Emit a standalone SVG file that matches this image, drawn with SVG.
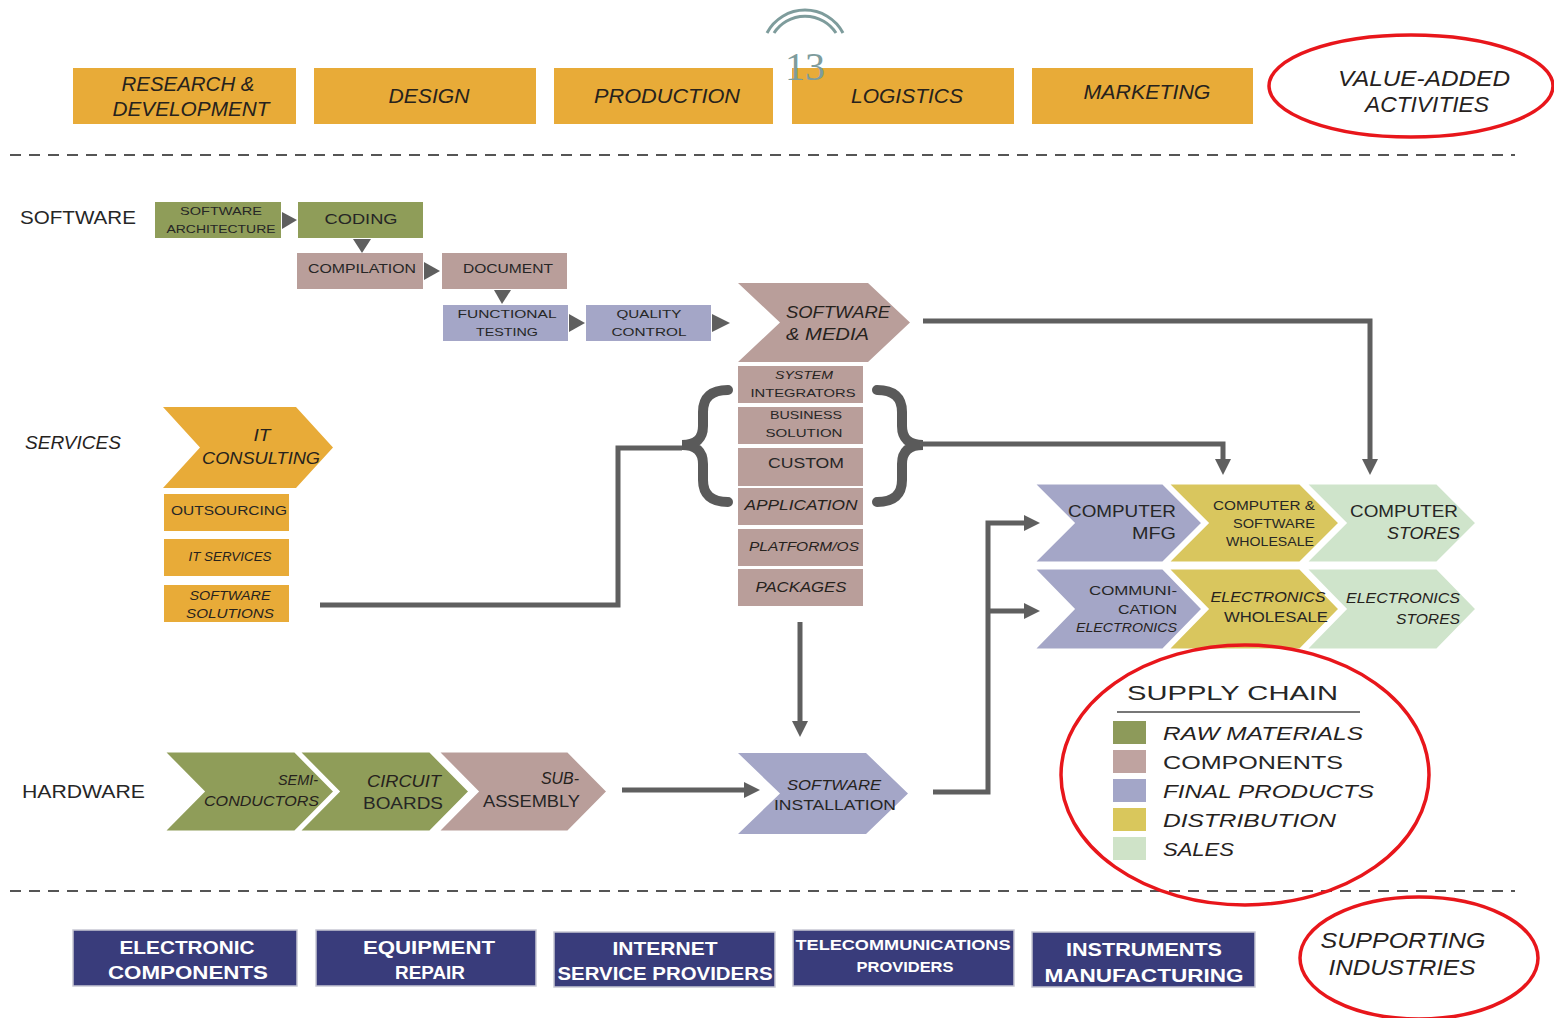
<svg xmlns="http://www.w3.org/2000/svg" width="1554" height="1018" viewBox="0 0 1554 1018">
<style>
.gold{fill:#E8AB38}
.olive{fill:#8F9D59}
.mauve{fill:#B99E9A}
.lav{fill:#A4A6C7}
.yel{fill:#D9C65E}
.sale{fill:#CFE4CB}
.navy{fill:#393C7B;stroke:#c8c8d4;stroke-width:1.5}
.chev{stroke:#ffffff;stroke-width:3}
.t{font-family:"Liberation Sans",Arial,sans-serif;fill:#26221d;font-style:italic}
.u{font-family:"Liberation Sans",Arial,sans-serif;fill:#262626}
.w{font-family:"Liberation Sans",Arial,sans-serif;fill:#ffffff;font-weight:bold}
.c{text-anchor:middle}
.e{text-anchor:end}
.conn{stroke:#5F5F5F;stroke-width:5;fill:none}
.tri{fill:#5F5F5F}
.dash{stroke:#555;stroke-width:2;stroke-dasharray:11 8;fill:none}
.red{stroke:#E8161B;stroke-width:3.5;fill:none}
.brace{stroke:#5A5A5A;stroke-width:10;fill:none;stroke-linecap:round}
</style>
<defs>
<marker id="ah" markerUnits="userSpaceOnUse" markerWidth="16" markerHeight="16" refX="10" refY="8" orient="auto">
<path d="M0,0 L16,8 L0,16 Z" fill="#5F5F5F"/>
</marker>
</defs>
<rect width="1554" height="1018" fill="#ffffff"/>

<!-- value-added activities row -->
<g id="rd"><rect class="gold" x="73" y="68" width="223" height="56"/>
<text class="t c" x="188" y="91" font-size="20" textLength="133" lengthAdjust="spacingAndGlyphs">RESEARCH &amp;</text>
<text class="t c" x="191" y="116" font-size="20" textLength="157" lengthAdjust="spacingAndGlyphs">DEVELOPMENT</text></g>
<g id="design"><rect class="gold" x="314" y="68" width="222" height="56"/>
<text class="t c" x="429" y="103" font-size="20" textLength="81" lengthAdjust="spacingAndGlyphs">DESIGN</text></g>
<g id="production"><rect class="gold" x="554" y="68" width="219" height="56"/>
<text class="t c" x="667" y="103" font-size="20" textLength="146" lengthAdjust="spacingAndGlyphs">PRODUCTION</text></g>
<g id="logistics"><rect class="gold" x="792" y="68" width="222" height="56"/>
<text class="t c" x="907" y="103" font-size="20" textLength="112" lengthAdjust="spacingAndGlyphs">LOGISTICS</text></g>
<g id="marketing"><rect class="gold" x="1032" y="68" width="221" height="56"/>
<text class="t c" x="1147" y="99" font-size="20" textLength="127" lengthAdjust="spacingAndGlyphs">MARKETING</text></g>
<g id="vaa">
<ellipse class="red" cx="1411" cy="86" rx="142" ry="51"/>
<text class="t c" x="1424" y="86" font-size="22" textLength="172" lengthAdjust="spacingAndGlyphs">VALUE-ADDED</text>
<text class="t c" x="1427" y="112" font-size="22" textLength="124" lengthAdjust="spacingAndGlyphs">ACTIVITIES</text></g>

<!-- page number decoration -->
<g id="pagenum">
<path d="M767,33 A43,43 0 0 1 843,33" stroke="#7E9C9C" stroke-width="3" fill="none"/>
<path d="M774,33 A37,37 0 0 1 836,33" stroke="#7E9C9C" stroke-width="3" fill="none"/>
<text x="805" y="80" font-family="Liberation Serif,serif" font-size="40" fill="#7E9C9C" text-anchor="middle" textLength="40" lengthAdjust="spacingAndGlyphs">13</text>
</g>

<line class="dash" x1="10" y1="155" x2="1515" y2="155"/>
<line class="dash" x1="10" y1="891" x2="1515" y2="891"/>

<!-- row labels -->
<text class="u" x="20" y="224" font-size="19" textLength="116" lengthAdjust="spacingAndGlyphs">SOFTWARE</text>
<text class="t" x="25" y="449" font-size="19" textLength="96" lengthAdjust="spacingAndGlyphs">SERVICES</text>
<text class="u" x="22" y="798" font-size="19" textLength="123" lengthAdjust="spacingAndGlyphs">HARDWARE</text>

<!-- software chain -->
<g id="swarch"><rect class="olive" x="155" y="202" width="126" height="36"/>
<text class="u c" x="221" y="215" font-size="11" textLength="82" lengthAdjust="spacingAndGlyphs">SOFTWARE</text>
<text class="u c" x="221" y="233" font-size="11" textLength="109" lengthAdjust="spacingAndGlyphs">ARCHITECTURE</text></g>
<g id="coding"><rect class="olive" x="298" y="202" width="125" height="36"/>
<text class="u c" x="361" y="224" font-size="14" textLength="73" lengthAdjust="spacingAndGlyphs">CODING</text></g>
<g id="compilation"><rect class="mauve" x="297" y="253" width="126" height="36"/>
<text class="u c" x="362" y="273" font-size="12" textLength="108" lengthAdjust="spacingAndGlyphs">COMPILATION</text></g>
<g id="document"><rect class="mauve" x="442" y="253" width="125" height="36"/>
<text class="u c" x="508" y="273" font-size="12" textLength="90" lengthAdjust="spacingAndGlyphs">DOCUMENT</text></g>
<g id="functesting"><rect class="lav" x="443" y="305" width="125" height="36"/>
<text class="u c" x="507" y="318" font-size="11" textLength="99" lengthAdjust="spacingAndGlyphs">FUNCTIONAL</text>
<text class="u c" x="507" y="336" font-size="11" textLength="62" lengthAdjust="spacingAndGlyphs">TESTING</text></g>
<g id="quality"><rect class="lav" x="586" y="305" width="125" height="36"/>
<text class="u c" x="649" y="318" font-size="11" textLength="65" lengthAdjust="spacingAndGlyphs">QUALITY</text>
<text class="u c" x="649" y="336" font-size="11" textLength="75" lengthAdjust="spacingAndGlyphs">CONTROL</text></g>
<g id="swmedia"><path class="mauve" d="M738,283 L868,283 L910,322.5 L868,362 L738,362 L780,322.5 Z"/>
<text class="t" x="786" y="318" font-size="17" textLength="104" lengthAdjust="spacingAndGlyphs">SOFTWARE</text>
<text class="t" x="786" y="340" font-size="17" textLength="83" lengthAdjust="spacingAndGlyphs">&amp; MEDIA</text></g>

<!-- software stack -->
<g id="sysint"><rect class="mauve" x="738" y="366" width="125" height="37"/>
<text class="t c" x="804" y="379" font-size="11" textLength="58" lengthAdjust="spacingAndGlyphs">SYSTEM</text>
<text class="u c" x="803" y="397" font-size="11" textLength="105" lengthAdjust="spacingAndGlyphs">INTEGRATORS</text></g>
<g id="business"><rect class="mauve" x="738" y="407" width="125" height="37"/>
<text class="u c" x="806" y="419" font-size="11" textLength="72" lengthAdjust="spacingAndGlyphs">BUSINESS</text>
<text class="u c" x="804" y="437" font-size="11" textLength="77" lengthAdjust="spacingAndGlyphs">SOLUTION</text></g>
<g id="custom"><rect class="mauve" x="738" y="448" width="125" height="38"/>
<text class="u c" x="806" y="468" font-size="15" textLength="76" lengthAdjust="spacingAndGlyphs">CUSTOM</text></g>
<g id="application"><rect class="mauve" x="738" y="488" width="125" height="37"/>
<text class="t c" x="801" y="510" font-size="15" textLength="113" lengthAdjust="spacingAndGlyphs">APPLICATION</text></g>
<g id="platform"><rect class="mauve" x="738" y="529" width="125" height="37"/>
<text class="t c" x="804" y="551" font-size="12" textLength="110" lengthAdjust="spacingAndGlyphs">PLATFORM/OS</text></g>
<g id="packages"><rect class="mauve" x="738" y="569" width="125" height="37"/>
<text class="t c" x="801" y="592" font-size="14" textLength="91" lengthAdjust="spacingAndGlyphs">PACKAGES</text></g>

<!-- services -->
<g id="itconsulting"><path class="gold" d="M163,407 L296,407 L333,447.5 L296,488 L163,488 L200,447.5 Z"/>
<text class="t c" x="262" y="441" font-size="16" textLength="17" lengthAdjust="spacingAndGlyphs">IT</text>
<text class="t c" x="261" y="464" font-size="16" textLength="118" lengthAdjust="spacingAndGlyphs">CONSULTING</text></g>
<g id="outsourcing"><rect class="gold" x="164" y="494" width="125" height="37"/>
<text class="u c" x="229" y="515" font-size="12" textLength="116" lengthAdjust="spacingAndGlyphs">OUTSOURCING</text></g>
<g id="itservices"><rect class="gold" x="164" y="539" width="125" height="37"/>
<text class="t c" x="230" y="561" font-size="12" textLength="83" lengthAdjust="spacingAndGlyphs">IT SERVICES</text></g>
<g id="swsolutions"><rect class="gold" x="164" y="585" width="125" height="37"/>
<text class="t c" x="230" y="600" font-size="12" textLength="81" lengthAdjust="spacingAndGlyphs">SOFTWARE</text>
<text class="t c" x="230" y="618" font-size="12" textLength="88" lengthAdjust="spacingAndGlyphs">SOLUTIONS</text></g>

<!-- hardware -->
<g id="semi"><path class="olive chev" d="M163,751 L295,751 L335,791.5 L295,832 L163,832 L203,791.5 Z"/>
<text class="t e" x="318" y="785" font-size="14" textLength="40" lengthAdjust="spacingAndGlyphs">SEMI-</text>
<text class="t e" x="319" y="806" font-size="14" textLength="115" lengthAdjust="spacingAndGlyphs">CONDUCTORS</text></g>
<g id="circuit"><path class="olive chev" d="M298,751 L430,751 L470,791.5 L430,832 L298,832 L338,791.5 Z"/>
<text class="t c" x="404" y="787" font-size="17" textLength="74" lengthAdjust="spacingAndGlyphs">CIRCUIT</text>
<text class="u c" x="403" y="809" font-size="17" textLength="80" lengthAdjust="spacingAndGlyphs">BOARDS</text></g>
<g id="subassembly"><path class="mauve chev" d="M437,751 L568,751 L608,791.5 L568,832 L437,832 L477,791.5 Z"/>
<text class="t e" x="579" y="784" font-size="17" textLength="38" lengthAdjust="spacingAndGlyphs">SUB-</text>
<text class="u e" x="580" y="807" font-size="17" textLength="97" lengthAdjust="spacingAndGlyphs">ASSEMBLY</text></g>
<g id="swinstall"><path class="lav" d="M738,753 L866,753 L908,793.5 L866,834 L738,834 L780,793.5 Z"/>
<text class="t c" x="834" y="790" font-size="15" textLength="94" lengthAdjust="spacingAndGlyphs">SOFTWARE</text>
<text class="u c" x="835" y="810" font-size="15" textLength="122" lengthAdjust="spacingAndGlyphs">INSTALLATION</text></g>

<!-- supply chain grid -->
<g id="compmfg"><path class="lav chev" d="M1033,483 L1163,483 L1203,523 L1163,563 L1033,563 L1073,523 Z"/>
<text class="u e" x="1176" y="517" font-size="17" textLength="108" lengthAdjust="spacingAndGlyphs">COMPUTER</text>
<text class="u e" x="1176" y="539" font-size="17" textLength="44" lengthAdjust="spacingAndGlyphs">MFG</text></g>
<g id="compwholesale"><path class="yel chev" d="M1167,483 L1300,483 L1340,523 L1300,563 L1167,563 L1207,523 Z"/>
<text class="u c" x="1264" y="510" font-size="12" textLength="102" lengthAdjust="spacingAndGlyphs">COMPUTER &amp;</text>
<text class="u c" x="1274" y="528" font-size="12" textLength="82" lengthAdjust="spacingAndGlyphs">SOFTWARE</text>
<text class="u c" x="1270" y="546" font-size="12" textLength="88" lengthAdjust="spacingAndGlyphs">WHOLESALE</text></g>
<g id="compstores"><path class="sale chev" d="M1305,483 L1437,483 L1477,523 L1437,563 L1305,563 L1345,523 Z"/>
<text class="u e" x="1458" y="517" font-size="17" textLength="108" lengthAdjust="spacingAndGlyphs">COMPUTER</text>
<text class="t e" x="1460" y="539" font-size="17" textLength="73" lengthAdjust="spacingAndGlyphs">STORES</text></g>
<g id="commelec"><path class="lav chev" d="M1033,568 L1163,568 L1203,609 L1163,650 L1033,650 L1073,609 Z"/>
<text class="u e" x="1177" y="595" font-size="12" textLength="88" lengthAdjust="spacingAndGlyphs">COMMUNI-</text>
<text class="u e" x="1177" y="614" font-size="12" textLength="59" lengthAdjust="spacingAndGlyphs">CATION</text>
<text class="t e" x="1177" y="632" font-size="12" textLength="101" lengthAdjust="spacingAndGlyphs">ELECTRONICS</text></g>
<g id="elecwholesale"><path class="yel chev" d="M1167,568 L1300,568 L1340,609 L1300,650 L1167,650 L1207,609 Z"/>
<text class="t c" x="1268" y="602" font-size="15" textLength="115" lengthAdjust="spacingAndGlyphs">ELECTRONICS</text>
<text class="u c" x="1276" y="622" font-size="15" textLength="104" lengthAdjust="spacingAndGlyphs">WHOLESALE</text></g>
<g id="elecstores"><path class="sale chev" d="M1305,568 L1437,568 L1477,609 L1437,650 L1305,650 L1345,609 Z"/>
<text class="t e" x="1460" y="603" font-size="15" textLength="114" lengthAdjust="spacingAndGlyphs">ELECTRONICS</text>
<text class="t e" x="1460" y="624" font-size="15" textLength="64" lengthAdjust="spacingAndGlyphs">STORES</text></g>

<!-- legend -->
<g id="legend">
<ellipse class="red" cx="1245" cy="775" rx="184" ry="130"/>
<text class="u" x="1127" y="700" font-size="21" textLength="211" lengthAdjust="spacingAndGlyphs">SUPPLY CHAIN</text>
<line x1="1117" y1="712" x2="1360" y2="712" stroke="#777" stroke-width="2"/>
<rect x="1113" y="721" width="33" height="23" fill="#8D9A5A"/>
<rect x="1113" y="750" width="33" height="23" fill="#BFA3A0"/>
<rect x="1113" y="779" width="33" height="23" fill="#A3A6C8"/>
<rect x="1113" y="808" width="33" height="23" fill="#D9C75C"/>
<rect x="1113" y="837" width="33" height="23" fill="#CFE3C8"/>
<text class="t" x="1163" y="740" font-size="19" textLength="200" lengthAdjust="spacingAndGlyphs">RAW MATERIALS</text>
<text class="u" x="1163" y="769" font-size="19" textLength="180" lengthAdjust="spacingAndGlyphs">COMPONENTS</text>
<text class="t" x="1163" y="798" font-size="19" textLength="211" lengthAdjust="spacingAndGlyphs">FINAL PRODUCTS</text>
<text class="t" x="1163" y="827" font-size="19" textLength="173" lengthAdjust="spacingAndGlyphs">DISTRIBUTION</text>
<text class="t" x="1163" y="856" font-size="19" textLength="71" lengthAdjust="spacingAndGlyphs">SALES</text>
</g>

<!-- supporting industries -->
<g id="eleccomp"><rect class="navy" x="73" y="930" width="224" height="56"/>
<text class="w c" x="187" y="954" font-size="19" textLength="135" lengthAdjust="spacingAndGlyphs">ELECTRONIC</text>
<text class="w c" x="188" y="979" font-size="19" textLength="160" lengthAdjust="spacingAndGlyphs">COMPONENTS</text></g>
<g id="equiprepair"><rect class="navy" x="316" y="930" width="220" height="56"/>
<text class="w c" x="429" y="954" font-size="19" textLength="132" lengthAdjust="spacingAndGlyphs">EQUIPMENT</text>
<text class="w c" x="430" y="979" font-size="19" textLength="70" lengthAdjust="spacingAndGlyphs">REPAIR</text></g>
<g id="isp"><rect class="navy" x="554" y="932" width="221" height="55"/>
<text class="w c" x="665" y="955" font-size="19" textLength="105" lengthAdjust="spacingAndGlyphs">INTERNET</text>
<text class="w c" x="665" y="980" font-size="19" textLength="215" lengthAdjust="spacingAndGlyphs">SERVICE PROVIDERS</text></g>
<g id="telecom"><rect class="navy" x="793" y="930" width="221" height="56"/>
<text class="w c" x="903" y="950" font-size="15" textLength="215" lengthAdjust="spacingAndGlyphs">TELECOMMUNICATIONS</text>
<text class="w c" x="905" y="972" font-size="15" textLength="97" lengthAdjust="spacingAndGlyphs">PROVIDERS</text></g>
<g id="instruments"><rect class="navy" x="1032" y="932" width="223" height="55"/>
<text class="w c" x="1144" y="956" font-size="19" textLength="156" lengthAdjust="spacingAndGlyphs">INSTRUMENTS</text>
<text class="w c" x="1144" y="982" font-size="19" textLength="199" lengthAdjust="spacingAndGlyphs">MANUFACTURING</text></g>
<g id="supporting">
<ellipse class="red" cx="1419" cy="958" rx="119" ry="61"/>
<text class="t c" x="1403" y="948" font-size="22" textLength="165" lengthAdjust="spacingAndGlyphs">SUPPORTING</text>
<text class="t c" x="1402" y="975" font-size="22" textLength="147" lengthAdjust="spacingAndGlyphs">INDUSTRIES</text></g>

<!-- connectors -->
<g id="connectors">
<polygon class="tri" points="282,212 297,220 282,229"/>
<polygon class="tri" points="353,239 371,239 362,253"/>
<polygon class="tri" points="424,262 440,271 424,280"/>
<polygon class="tri" points="494,290 511,290 502,304"/>
<polygon class="tri" points="569,314 585,323 569,332"/>
<polygon class="tri" points="712,314 730,323 712,332"/>
<path class="brace" d="M728,390 Q703,390 703,412 L703,426 Q703,445 682,445 Q703,445 703,464 L703,480 Q703,502 728,502"/>
<path class="brace" d="M877,390 Q902,390 902,412 L902,426 Q902,445 923,445 Q902,445 902,464 L902,480 Q902,502 877,502"/>
<path class="conn" d="M923,321 H1370 V469" marker-end="url(#ah)"/>
<path class="conn" d="M920,444 H1223 V469" marker-end="url(#ah)"/>
<path class="conn" d="M320,605 H618 V448 H682"/>
<path class="conn" d="M800,622 V731" marker-end="url(#ah)"/>
<path class="conn" d="M622,790 H754" marker-end="url(#ah)"/>
<path class="conn" d="M933,792 H988 V523 H1034" marker-end="url(#ah)"/>
<path class="conn" d="M988,611 H1034" marker-end="url(#ah)"/>
</g>
</svg>
